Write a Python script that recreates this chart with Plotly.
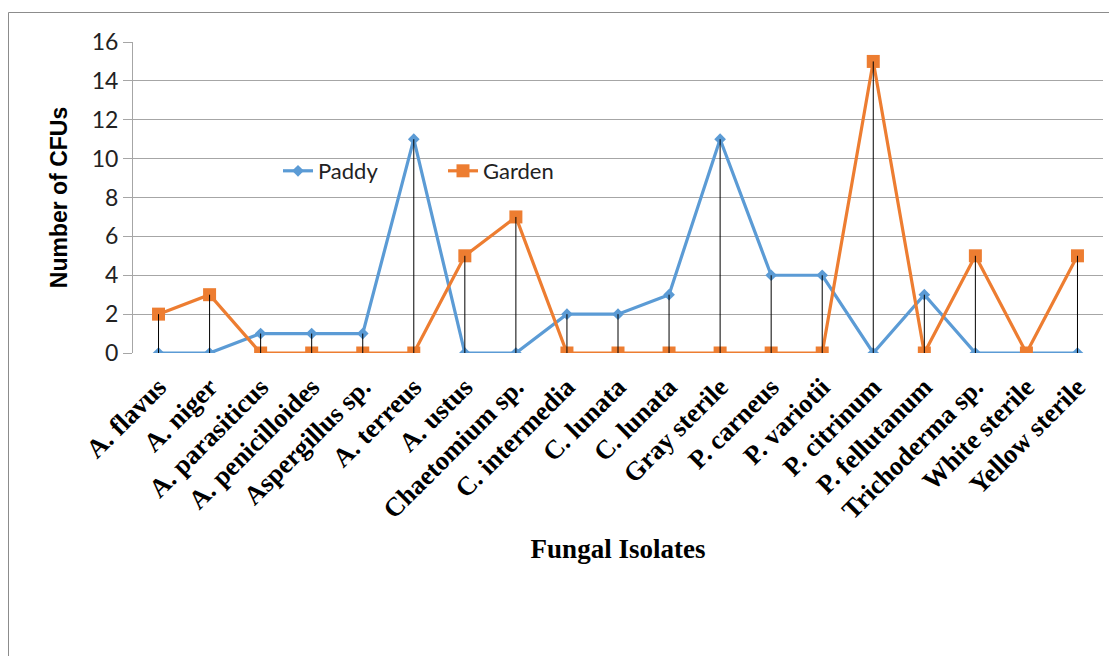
import plotly.graph_objects as go

categories = ["A. flavus", "A. niger", "A. parasiticus", "A. penicilloides", "Aspergillus sp.",
              "A. terreus", "A. ustus", "Chaetomium sp.", "C. intermedia", "C. lunata", "C. lunata",
              "Gray sterile", "P. carneus", "P. variotii", "P. citrinum", "P. fellutanum",
              "Trichoderma sp.", "White sterile", "Yellow sterile"]
paddy = [0, 0, 1, 1, 1, 11, 0, 0, 2, 2, 3, 11, 4, 4, 0, 3, 0, 0, 0]
garden = [2, 3, 0, 0, 0, 0, 5, 7, 0, 0, 0, 0, 0, 0, 15, 0, 5, 0, 5]
y_ticks = [0, 2, 4, 6, 8, 10, 12, 14, 16]

xs = list(range(len(categories)))

# high-low lines between the two series
hl_x, hl_y = [], []
for i, (a, b) in enumerate(zip(paddy, garden)):
    hl_x += [i, i, None]
    hl_y += [min(a, b), max(a, b), None]

fig = go.Figure()
fig.add_trace(go.Scatter(x=xs, y=paddy, name="Paddy", mode="lines+markers",
                         line=dict(color="#5B9BD5", width=3.2),
                         marker=dict(symbol="diamond", size=9, color="#5B9BD5")))
fig.add_trace(go.Scatter(x=xs, y=garden, name="Garden", mode="lines+markers",
                         line=dict(color="#ED7D31", width=3.2),
                         marker=dict(symbol="square", size=13, color="#ED7D31")))
fig.add_trace(go.Scatter(x=hl_x, y=hl_y, mode="lines", showlegend=False,
                         line=dict(color="black", width=1), hoverinfo="skip"))

# page has an 8px body margin; work in page pixel coordinates
OFF = 8
W, H = 1109, 648
PL, PR, PT, PB = 133, 1103, 42, 353  # plot area in page pixels
L, T = PL - OFF, PT - OFF
R = W - (PR - OFF)
B = H - (PB - OFF)
pw, ph = PR - PL, PB - PT


def px_x(p):
    return (p - PL) / pw


def px_y(p):
    return (PB - p) / ph


fig.add_shape(type="rect", xref="paper", yref="paper",
              x0=px_x(8.5), x1=px_x(1130), y0=px_y(670), y1=px_y(12.5),
              line=dict(color="#8C8C8C", width=1), fillcolor="rgba(0,0,0,0)", layer="below")

fig.update_layout(
    width=W, height=H,
    margin=dict(l=L, r=R, t=T, b=B, autoexpand=False),
    paper_bgcolor="white", plot_bgcolor="white",
    showlegend=True,
    legend=dict(orientation="h", x=px_x(278), y=px_y(171), xanchor="left", yanchor="middle",
                font=dict(family="Lato", size=22, color="#222"), bgcolor="rgba(0,0,0,0)",
                entrywidth=120),
    xaxis=dict(range=[-0.5, len(categories) - 0.5], tickmode="array", tickvals=xs,
               ticktext=categories, tickangle=-45, showgrid=False, zeroline=False,
               showline=False, ticks="outside", ticklen=7, tickcolor="rgba(0,0,0,0)",
               tickfont=dict(family="Liberation Serif", size=26.5, color="black", weight="bold"),
               title=dict(text="Fungal Isolates", standoff=15,
                          font=dict(family="Liberation Serif", size=27, color="black", weight="bold"))),
    yaxis=dict(range=[0, 16], tickmode="array", tickvals=y_ticks, showgrid=True,
               gridcolor="#A6A6A6", gridwidth=1, zeroline=False, showline=True,
               linecolor="#A6A6A6", linewidth=1, ticks="outside", ticklen=9,
               tickcolor="#A6A6A6",
               tickfont=dict(family="Lato", size=23, color="#222"),
               title=dict(text="Number of CFUs", standoff=17,
                          font=dict(family="Liberation Sans", size=23, color="black", weight="bold"))),
)

fig.write_html("out.html")
